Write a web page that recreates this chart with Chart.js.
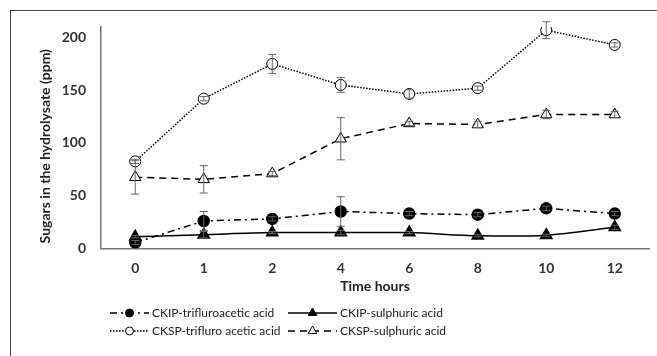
<!DOCTYPE html>
<html>
<head>
<meta charset="utf-8">
<script src="https://cdn.jsdelivr.net/npm/chart.js@4.4.1/dist/chart.umd.min.js"></script>
<style>
    html, body { margin: 0; padding: 0; background: #fff; }
    #wrap { position: relative; width: 657px; height: 356px; overflow: hidden; }
    #frame { position: absolute; left: 10px; top: 10px; width: 700px; height: 400px; border-left: 1px solid #444; border-top: 1px solid #444; }
    #myChart { position: absolute; left: 0; top: 0; }
</style>
</head>
<body>
<div id="wrap">
    <div id="frame"></div>
    <canvas id="myChart" width="657" height="356"></canvas>
</div>
<script>
const hours = ['0', '1', '2', '4', '6', '8', '10', '12'];

const ckipTfa = [5.5, 26, 28, 35, 33, 32, 38, 33];
const ckipTfaErr = [2, 9, 2, 14, 2, 2, 2, 2];
const ckipSa = [11, 13, 15, 15, 15, 12, 12.5, 20];
const ckipSaErr = [1, 3, 1, 2, 1, 1, 1, 2];
const ckspTfa = [82.5, 142, 175, 155, 146.5, 152, 207, 193];
const ckspTfaErr = [2, 2, 9, 7, 4, 2, 8, 2];
const ckspSa = [67.5, 65.5, 71, 104, 118.5, 117.5, 127, 127];
const ckspSaErr = [16, 13, 2, 20, 2, 3, 4, 3];

const yTicks = [0, 50, 100, 150, 200];

const FONT = 'Lato, "Open Sans", sans-serif';

const errorBars = {
    id: 'errorBars',
    afterDatasetsDraw(chart) {
        const ctx = chart.ctx;
        const xs = chart.scales.x, ys = chart.scales.y;
        ctx.save();
        ctx.strokeStyle = '#666';
        ctx.lineWidth = 1;
        chart.data.datasets.forEach(ds => {
            if (!ds.errors) return;
            ds.data.forEach((v, j) => {
                const px = xs.getPixelForValue(j);
                const t = ys.getPixelForValue(v + ds.errors[j]);
                const b = ys.getPixelForValue(v - ds.errors[j]);
                ctx.beginPath();
                ctx.moveTo(px, t); ctx.lineTo(px, b);
                ctx.moveTo(px - 4, t); ctx.lineTo(px + 4, t);
                ctx.moveTo(px - 4, b); ctx.lineTo(px + 4, b);
                ctx.stroke();
            });
        });
        ctx.restore();
    }
};

// legend drawn by hand so it can sit in two columns like the original
const legendBox = {
    id: 'legendBox',
    afterDraw(chart) {
        const ctx = chart.ctx;
        const spots = [
            { x1: 110, x2: 149, y: 313 },
            { x1: 288, x2: 337, y: 313 },
            { x1: 110, x2: 149, y: 331 },
            { x1: 288, x2: 337, y: 331 }
        ];
        chart.data.datasets.forEach((ds, i) => {
            const s = spots[i];
            ctx.save();
            ctx.strokeStyle = '#000';
            ctx.lineWidth = ds.borderWidth;
            ctx.setLineDash(ds.borderDash || []);
            ctx.beginPath();
            ctx.moveTo(s.x1, s.y); ctx.lineTo(s.x2, s.y);
            ctx.stroke();
            ctx.setLineDash([]);
            ctx.fillStyle = ds.pointBackgroundColor;
            ctx.strokeStyle = '#000';
            ctx.lineWidth = 1;
            Chart.helpers.drawPoint(ctx, { pointStyle: ds.pointStyle, radius: ds.pointRadius - 1.5, rotation: 0, borderWidth: 1 }, (s.x1 + s.x2) / 2, s.y);
            ctx.fillStyle = '#222';
            ctx.font = '12px ' + FONT;
            ctx.textBaseline = 'middle';
            ctx.fillText(ds.label, s.x2 + 3, s.y);
            ctx.restore();
        });
    }
};

const ctx = document.getElementById('myChart').getContext('2d');
new Chart(ctx, {
    type: 'line',
    data: {
        labels: hours,
        datasets: [{
            label: 'CKIP-trifluroacetic acid',
            data: ckipTfa,
            errors: ckipTfaErr,
            borderColor: '#000',
            borderWidth: 1.5,
            borderDash: [7, 4, 2, 4],
            pointStyle: 'circle',
            pointRadius: 5.5,
            pointBackgroundColor: '#000',
            pointBorderColor: '#000',
            tension: 0
        }, {
            label: 'CKIP-sulphuric acid',
            data: ckipSa,
            errors: ckipSaErr,
            borderColor: '#000',
            borderWidth: 1.5,
            pointStyle: 'triangle',
            pointRadius: 6.5,
            pointBackgroundColor: '#000',
            pointBorderColor: '#000',
            tension: 0.3
        }, {
            label: 'CKSP-trifluro acetic acid',
            data: ckspTfa,
            errors: ckspTfaErr,
            borderColor: '#000',
            borderWidth: 1.5,
            borderDash: [1.5, 1.5],
            pointStyle: 'circle',
            pointRadius: 5.5,
            pointBackgroundColor: '#fff',
            pointBorderColor: '#000',
            pointBorderWidth: 1,
            tension: 0
        }, {
            label: 'CKSP-sulphuric acid',
            data: ckspSa,
            errors: ckspSaErr,
            borderColor: '#000',
            borderWidth: 1.5,
            borderDash: [7, 5],
            pointStyle: 'triangle',
            pointRadius: 6.5,
            pointBackgroundColor: '#fff',
            pointBorderColor: '#000',
            pointBorderWidth: 1,
            tension: 0
        }]
    },
    options: {
        responsive: false,
        animation: false,
        layout: { padding: { left: 0, right: 8, top: 27, bottom: 57 } },
        plugins: { legend: { display: false }, tooltip: { enabled: false } },
        scales: {
            x: {
                offset: true,
                grid: { display: false, drawTicks: false },
                border: { color: '#777', width: 1.5 },
                ticks: { color: '#333', padding: 12, font: { family: FONT, size: 14, weight: 'bold' } },
                title: { display: true, text: 'Time hours', color: '#222', padding: { top: -11, bottom: 4 }, font: { family: FONT, size: 14, weight: 'bold' } }
            },
            y: {
                min: 0,
                max: 210,
                afterFit: scale => { scale.width = 101; },
                afterBuildTicks: scale => { scale.ticks = yTicks.map(v => ({ value: v })); },
                grid: { display: false, drawTicks: false },
                border: { color: '#777', width: 1.5 },
                ticks: { color: '#333', padding: 15, font: { family: FONT, size: 14, weight: 'bold' } },
                title: { display: true, text: 'Sugars in the hydrolysate (ppm)     ', color: '#222', padding: { top: 37 }, font: { family: FONT, size: 14, weight: 'bold' } }
            }
        }
    },
    plugins: [errorBars, legendBox]
});
</script>
</body>
</html>
